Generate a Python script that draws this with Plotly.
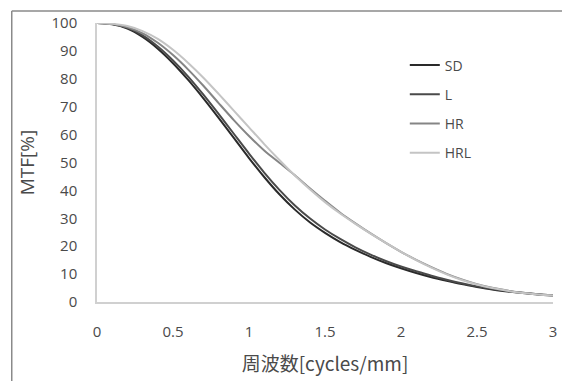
import plotly.graph_objects as go

# Spatial frequency [cycles/mm]
freq = [0.0, 0.1, 0.2, 0.3, 0.4, 0.5, 0.6, 0.7, 0.8, 0.9,
        1.0, 1.1, 1.2, 1.3, 1.4, 1.5, 1.6, 1.7, 1.8, 1.9,
        2.0, 2.1, 2.2, 2.3, 2.4, 2.5, 2.6, 2.7, 2.8, 2.9, 3.0]

# MTF [%] per reconstruction kernel
mtf_sd = [100, 99.5, 98.0, 95.0, 90.8, 85.6, 79.6, 73.0, 66.0, 58.8,
          51.6, 44.8, 38.6, 33.2, 28.6, 24.8, 21.5, 18.7, 16.2, 14.0,
          12.1, 10.4, 8.9, 7.6, 6.4, 5.4, 4.5, 3.8, 3.2, 2.7, 2.3]
mtf_l = [100, 99.6, 98.3, 95.6, 91.6, 86.6, 80.8, 74.3, 67.4, 60.3,
         53.2, 46.4, 40.2, 34.7, 30.0, 26.0, 22.6, 19.6, 17.0, 14.7,
         12.7, 11.0, 9.4, 8.0, 6.7, 5.6, 4.7, 3.9, 3.3, 2.8, 2.4]
mtf_hr = [100, 99.6, 98.5, 96.3, 92.9, 88.5, 83.3, 77.5, 71.3, 65.2,
          59.5, 54.3, 49.9, 45.5, 40.8, 36.3, 32.0, 28.2, 24.6, 21.2,
          18.0, 15.1, 12.5, 10.1, 8.1, 6.4, 5.1, 4.1, 3.3, 2.8, 2.4]
mtf_hrl = [100, 99.7, 98.9, 97.1, 94.3, 90.4, 85.7, 80.4, 74.6, 68.6,
           62.6, 56.6, 50.9, 45.4, 40.4, 35.8, 31.7, 28.0, 24.5, 21.2,
           18.0, 15.0, 12.3, 9.9, 7.9, 6.3, 5.0, 4.0, 3.2, 2.7, 2.3]

names = ["SD", "L", "HR", "HRL"]
series = [mtf_sd, mtf_l, mtf_hr, mtf_hrl]
colors = ["#2a2a2a", "#4a4a4a", "#858585", "#c4c4c4"]

x_ticks = [0, 0.5, 1, 1.5, 2, 2.5, 3]
x_tick_text = ["0", "0.5", "1", "1.5", "2", "2.5", "3"]
y_ticks = [0, 10, 20, 30, 40, 50, 60, 70, 80, 90, 100]

FONT = "Open Sans, Liberation Sans, sans-serif"
TEXT = "#4a4a4a"

fig = go.Figure()
for name, ys, col in zip(names, series, colors):
    fig.add_trace(go.Scatter(
        x=freq, y=ys, name=name, mode="lines", legendgroup=name,
        line=dict(color=col, width=2, shape="spline", smoothing=0.8),
    ))

W, H = 562, 381
ml, mr, mt, mb = 97, 5, 23, 79
pw, ph = W - ml - mr, H - mt - mb

# outer frame (top and left edges)
fx = (11 - ml) / pw
fy_top = 1 + (mt - 11) / ph
fy_bot = -mb / ph - 0.01
fig.add_shape(type="line", xref="paper", yref="paper",
              x0=fx, x1=1 + mr / pw + 0.01, y0=fy_top, y1=fy_top,
              line=dict(color="#8a8a8a", width=1.5))
fig.add_shape(type="line", xref="paper", yref="paper",
              x0=fx, x1=fx, y0=fy_top, y1=fy_bot,
              line=dict(color="#8a8a8a", width=1.5))

fig.update_layout(
    width=W, height=H,
    margin=dict(l=ml, r=mr, t=mt, b=mb),
    paper_bgcolor="white", plot_bgcolor="white",
    font=dict(family=FONT, size=14, color=TEXT),
    showlegend=True,
    legend=dict(x=0.675, y=0.905, xanchor="left", yanchor="top",
                bgcolor="rgba(0,0,0,0)", tracegroupgap=8,
                traceorder="grouped", font=dict(size=14, color=TEXT),
                itemwidth=30),
    xaxis=dict(range=[0, 3], tickvals=x_ticks, ticktext=x_tick_text,
               showgrid=False, zeroline=False, showline=True,
               linecolor="#d0d0d0", linewidth=1.5, ticks="",
               ticklabelstandoff=15, tickfont=dict(size=15),
               title=dict(text="周波数[cycles/mm]", standoff=18,
                          font=dict(size=19, color=TEXT,
                                    family="Noto Sans CJK JP, " + FONT))),
    yaxis=dict(range=[0, 100], tickvals=y_ticks,
               showgrid=False, zeroline=False, showline=True,
               linecolor="#d0d0d0", linewidth=1.5, ticks="",
               ticklabelstandoff=15, tickfont=dict(size=15),
               title=dict(text="MTF[%]", standoff=12,
                          font=dict(size=19, color=TEXT))),
)

fig.write_html("out.html")
